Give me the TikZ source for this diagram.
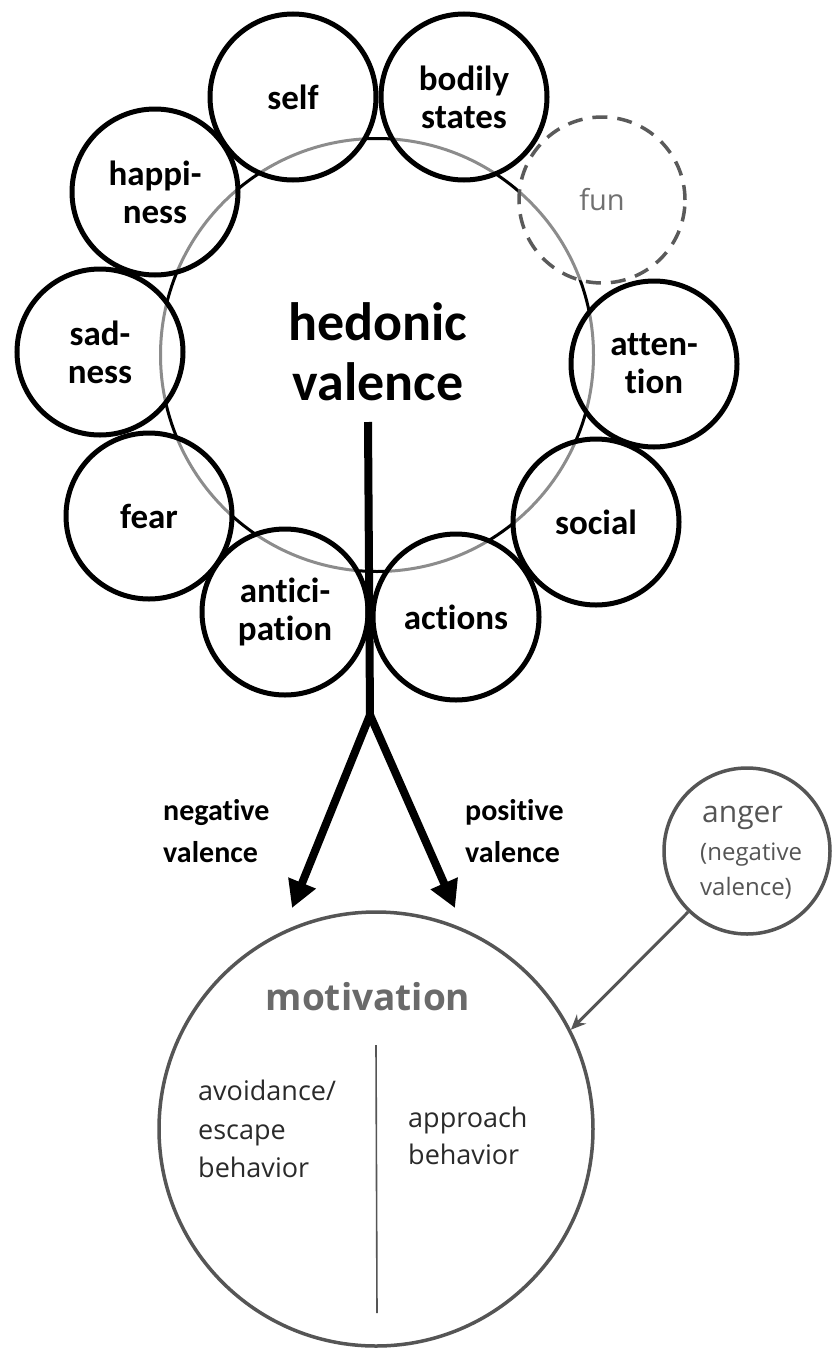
\documentclass[tikz,border=0pt]{standalone}
\usepackage{fontspec}
\setmainfont{Carlito}[Ligatures=NoCommon]
\newfontfamily\osans{Open Sans}[Ligatures=NoCommon]
\usetikzlibrary{arrows.meta}
\definecolor{ringgray}{HTML}{555555}
\definecolor{fungray}{HTML}{5A5A5A}
\definecolor{funtext}{HTML}{707070}
\definecolor{motgray}{HTML}{6A6A6A}
\definecolor{bodytext}{HTML}{2A2A2A}
\begin{document}
\begin{tikzpicture}[x=1pt,y=-1pt,
  bub/.style={circle, draw=black, line width=5pt, minimum size=166pt, inner sep=0pt,
    fill=white, fill opacity=0.55, text opacity=1, align=center,
    font=\fontsize{35}{38}\selectfont\bfseries},
  funbub/.style={circle, draw=fungray, line width=3.5pt, dash pattern=on 15pt off 10pt,
    minimum size=166pt, inner sep=0pt, fill=white, fill opacity=0.55, text opacity=1,
    text=funtext, font=\osans\fontsize{29}{34}\selectfont},
  graybub/.style={circle, draw=ringgray, line width=3.5pt, inner sep=0pt},
  vallabel/.style={anchor=base west, inner sep=0pt, font=\fontsize{30}{36}\selectfont\bfseries},
  angertext/.style={anchor=base west, inner sep=0pt, text=ringgray},
  behtext/.style={anchor=base west, inner sep=0pt, text=bodytext, font=\osans\fontsize{27}{32}\selectfont},
  thickarrow/.style={line width=8pt, -{Triangle[width=28pt,length=27pt]}}
]
\useasboundingbox[fill=white] (0,0) rectangle (833,1349);

% central ring
\node[circle, draw=black, line width=3pt, minimum size=433pt, inner sep=0pt] (big) at (377,355) {};

% surrounding circles
\node[bub] (self) at (293,97) {self};
\node[bub] (bodily) at (464,97) {bodily\\states};
\node[funbub] (fun) at (602,200) {fun};
\node[bub] (happy) at (155,192) {happi-\\ness};
\node[bub] (sad) at (100,352) {sad-\\ness};
\node[bub] (attn) at (654,364) {atten-\\tion};
\node[bub] (fear) at (149,516) {fear};
\node[bub] (antic) at (285,612) {antici-\\pation};
\node[bub] (actions) at (456,617) {actions};
\node[bub] (social) at (596,522) {social};

% centre text
\node[align=center, inner sep=0pt, font=\fontsize{54}{60}\selectfont\bfseries] (hv) at (378,352) {hedonic\\valence};

% stem and fork
\coordinate (stemtop) at (368,422);
\coordinate (fork) at (370,715);
\coordinate (tipL) at (292,908);
\coordinate (tipR) at (455,908);
\draw[line width=8pt] (stemtop) -- (fork);
\draw[thickarrow] (fork) -- (tipL);
\draw[thickarrow] (fork) -- (tipR);

\node[vallabel] (negA) at (163,820) {negative};
\node[vallabel] (negB) at (163,862) {valence};
\node[vallabel] (posA) at (465,820) {positive};
\node[vallabel] (posB) at (465,862) {valence};

% anger
\node[graybub, minimum size=166pt] (anger) at (747,851) {};
\node[angertext, font=\osans\fontsize{30}{34}\selectfont] (angA) at (702,822) {anger};
\node[angertext, font=\osans\fontsize{24}{30}\selectfont] (angB) at (700,860) {(negative};
\node[angertext, font=\osans\fontsize{24}{30}\selectfont] (angC) at (700,895) {valence)};

% motivation
\node[graybub, minimum size=434pt] (motiv) at (376,1129) {};
\node[anchor=base, inner sep=0pt, text=motgray, font=\osans\fontsize{37}{44}\selectfont\bfseries] (mottext) at (368,1010) {motivation};
\coordinate (divtop) at (376,1045);
\coordinate (divbot) at (377,1313);
\draw[line width=1.6pt, draw=ringgray] (divtop) -- (divbot);
\node[behtext] (avA) at (198,1100) {avoidance/};
\node[behtext] (avB) at (198,1139) {escape};
\node[behtext] (avC) at (198,1177) {behavior};
\node[behtext] (apA) at (408,1127) {approach};
\node[behtext] (apB) at (408,1164) {behavior};

\draw[draw=ringgray, line width=3pt, -{Stealth[length=15pt,width=13pt]}] (anger.226) -- (motiv.27);
\end{tikzpicture}
\end{document}
